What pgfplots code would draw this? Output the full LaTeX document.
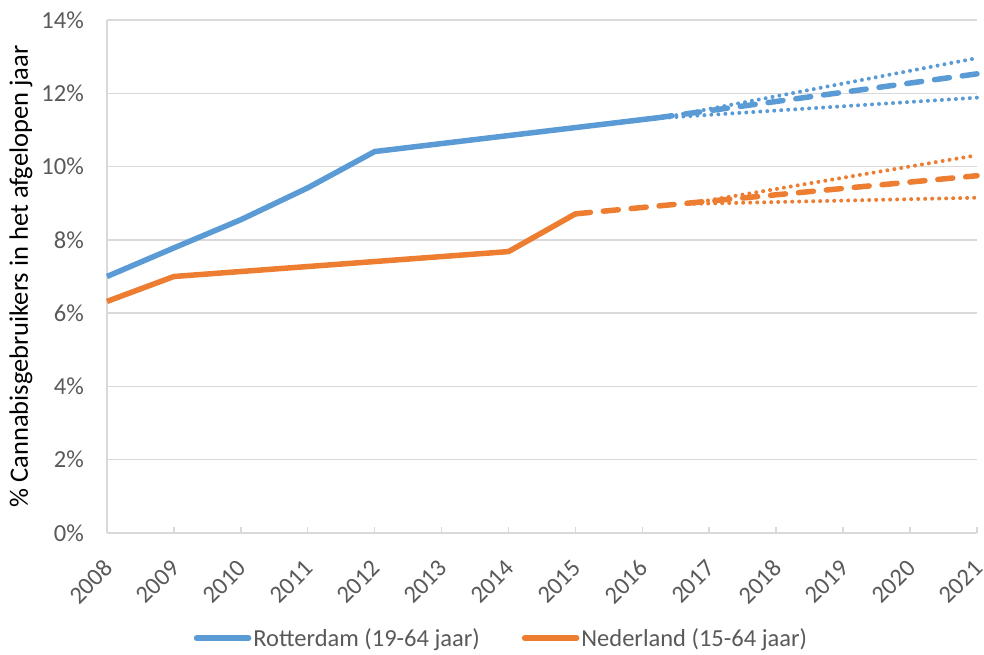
\documentclass[border=0pt]{standalone}
\usepackage{fontspec}
\setmainfont{Carlito}
\usepackage{pgfplots}
\pgfplotsset{compat=1.18}

\definecolor{rdam}{HTML}{5B9BD5}
\definecolor{nl}{HTML}{ED7D31}
\definecolor{gridgray}{HTML}{D9D9D9}
\definecolor{txtgray}{HTML}{595959}

\begin{document}
\begin{tikzpicture}
\begin{axis}[
  scale only axis,
  width=870pt, height=513pt,
  xmin=2008, xmax=2021, ymin=0, ymax=14,
  axis x line*=bottom, axis y line*=left,
  axis line style={gridgray, line width=1.5pt},
  xtick={2008,2009,...,2021},
  xticklabels={},
  ytick={0,2,...,14},
  yticklabels={0\%,2\%,4\%,6\%,8\%,10\%,12\%,14\%},
  xtick align=inside,
  major tick length=6pt,
  xtick style={gridgray, line width=1.5pt},
  ytick style={draw=none},
  ymajorgrids,
  major grid style={gridgray, line width=1.5pt},
  ticklabel style={font=\fontsize{24.5}{29}\selectfont, text=txtgray, inner sep=0pt},
  yticklabel style={xshift=-23pt},
  ylabel={\% Cannabisgebruikers in het afgelopen jaar},
  ylabel style={font=\fontsize{26.5}{31}\selectfont, text=black,
    at={(axis description cs:-0.099,0.5)}, anchor=center, rotate=0},
  legend columns=2,
  legend style={draw=none, fill=none, at={(0.4534,-0.205)}, anchor=center,
    font=\fontsize{24.5}{29}\selectfont, text=txtgray,
    /tikz/every even column/.append style={column sep=40pt}},
  legend image code/.code={\draw[#1, line width=5.5pt, line cap=round] (0pt,0pt) -- (52pt,0pt);},
  clip=false,
]
% gemeten waarden
\addplot[rdam, line width=5.5pt, line join=round] coordinates {
(2008,7.00) (2009,7.78) (2010,8.55) (2011,9.42) (2012,10.41) (2016.22,11.33)
};
\addlegendentry{Rotterdam (19-64 jaar)}
\addplot[nl, line width=5.5pt, line join=round] coordinates {
(2008,6.32) (2009,7.00) (2014,7.68) (2015,8.71)
};
\addlegendentry{Nederland (15-64 jaar)}
% trend en marges
\addplot[rdam, line width=5.5pt, line cap=round, dash pattern=on 15pt off 13pt, forget plot] coordinates {
(2016.22,11.33) (2021,12.53)
};
\addplot[rdam, line width=4pt, line cap=round, dash pattern=on 0pt off 7pt, forget plot] coordinates {
(2016.30,11.33) (2021,12.96)
};
\addplot[rdam, line width=4pt, line cap=round, dash pattern=on 0pt off 7pt, forget plot] coordinates {
(2016.30,11.33) (2021,11.88)
};
\addplot[nl, line width=5.5pt, line cap=round, dash pattern=on 15pt off 13pt, forget plot] coordinates {
(2015,8.71) (2021,9.75)
};
\addplot[nl, line width=4pt, line cap=round, dash pattern=on 0pt off 7pt, forget plot] coordinates {
(2016.67,8.98) (2021,10.31)
};
\addplot[nl, line width=4pt, line cap=round, dash pattern=on 0pt off 7pt, forget plot] coordinates {
(2016.67,8.98) (2021,9.15)
};
% jaartallen schuin onder de as
\pgfplotsinvokeforeach{2008,2009,...,2021}{
  \node[rotate=45, anchor=east, inner sep=0pt, text=txtgray,
    font=\fontsize{24.5}{29}\selectfont]
    at ([shift={(1.5pt,-31pt)}]axis cs:#1,0) {#1};
}
\end{axis}
\pgfresetboundingbox
\path[use as bounding box] ([shift={(-107pt,-122pt)}]current axis.south west)
  rectangle ([shift={(7pt,20pt)}]current axis.north east);
\end{tikzpicture}
\end{document}
